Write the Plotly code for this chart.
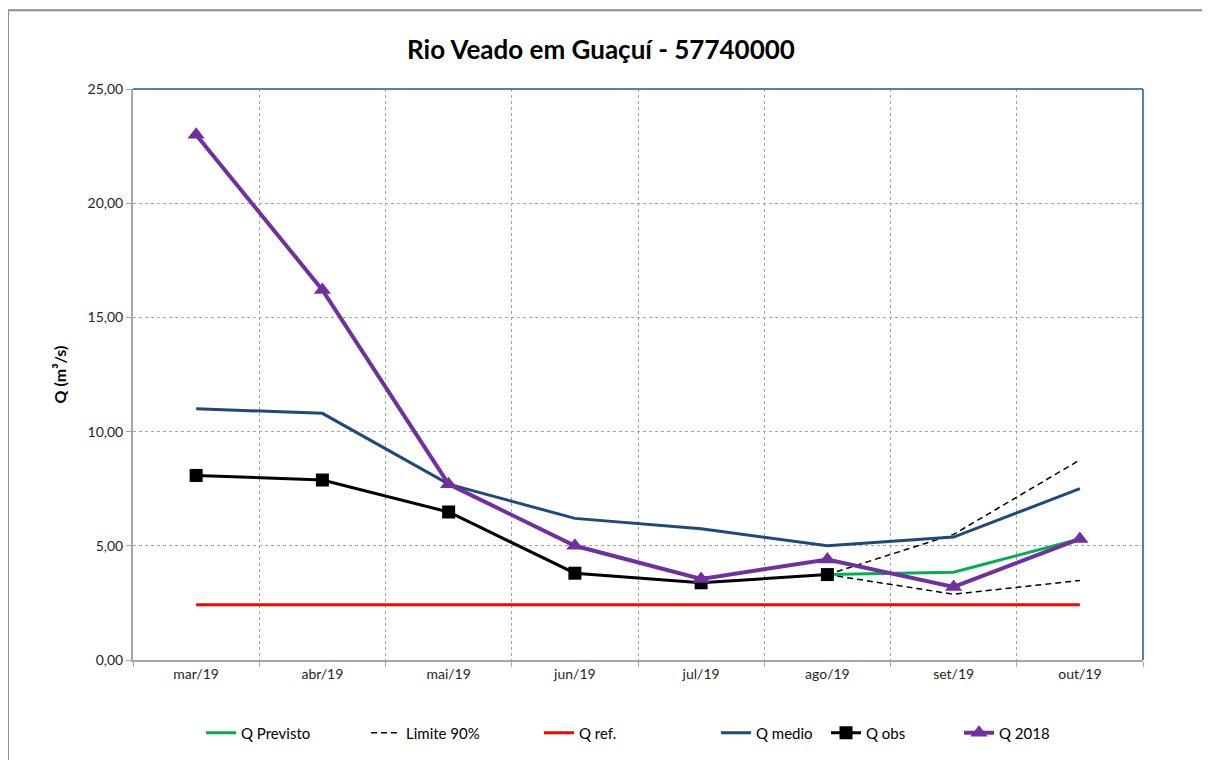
import plotly.graph_objects as go

months = ["mar/19", "abr/19", "mai/19", "jun/19", "jul/19", "ago/19", "set/19", "out/19"]
q_2018 = [23.0, 16.2, 7.7, 5.0, 3.55, 4.4, 3.2, 5.3]
q_medio = [11.0, 10.8, 7.7, 6.2, 5.75, 5.0, 5.38, 7.5]
q_obs = [8.08, 7.88, 6.48, 3.8, 3.38, 3.74, None, None]
q_ref = [2.42] * 8
prev_months = ["ago/19", "set/19", "out/19"]
q_previsto = [3.74, 3.84, 5.3]
lim_sup = [3.74, 5.5, 8.76]
lim_inf = [3.74, 2.88, 3.48]

fig = go.Figure()
fig.add_trace(go.Scatter(x=prev_months, y=q_previsto, name="Q Previsto", mode="lines",
                         legend="legend", line=dict(color="#00b050", width=3)))
fig.add_trace(go.Scatter(x=prev_months, y=lim_sup, name="Limite 90%", mode="lines",
                         legend="legend2", line=dict(color="black", width=1.5, dash="6px,4px")))
fig.add_trace(go.Scatter(x=prev_months, y=lim_inf, name="Limite 90%", mode="lines",
                         legend="legend2", showlegend=False,
                         line=dict(color="black", width=1.5, dash="6px,4px")))
fig.add_trace(go.Scatter(x=months, y=q_ref, name="Q ref.", mode="lines",
                         legend="legend3", line=dict(color="#ff0000", width=3)))
fig.add_trace(go.Scatter(x=months, y=q_medio, name="Q medio", mode="lines",
                         legend="legend4", line=dict(color="#1f497d", width=3)))
fig.add_trace(go.Scatter(x=months, y=q_obs, name="Q obs", mode="lines+markers",
                         legend="legend5", line=dict(color="black", width=3),
                         marker=dict(symbol="square", size=13, color="black")))
fig.add_trace(go.Scatter(x=months, y=q_2018, name="Q 2018", mode="lines+markers",
                         legend="legend6", line=dict(color="#7030a0", width=4),
                         marker=dict(symbol="triangle-up", size=15, color="#7030a0")))

font = "Lato, Open Sans, sans-serif"
L, T, PW, PH = 125, 81, 1010, 571
legend_px = [207, 372, 545, 722, 832, 965]  # page x of each legend line start


def leg(px):
    return dict(x=(px - 8 - L - 6) / PW, xanchor="left", y=-0.128, yanchor="middle",
                font=dict(size=15, color="black"), bgcolor="rgba(0,0,0,0)", itemwidth=30)


legends = {}
for i, px in enumerate(legend_px):
    key = "legend" if i == 0 else f"legend{i + 1}"
    legends[key] = leg(px)

fig.update_layout(
    width=1210, height=760,
    margin=dict(l=L, r=1210 - L - PW, t=T, b=760 - T - PH),
    paper_bgcolor="white", plot_bgcolor="white",
    separators=", ",
    font=dict(family=font, size=14, color="#262626"),
    title=dict(text="<b>Rio Veado em Guaçuí - 57740000</b>", x=593 / 1210, xanchor="center",
               y=1 - 42 / 760, yanchor="middle", font=dict(size=26, color="black")),
    showlegend=True,
    xaxis=dict(type="category", categoryorder="array", categoryarray=months,
               range=[-0.5, 7.5], tickson="boundaries", showgrid=True,
               gridcolor="#a6a6a6", griddash="dot", gridwidth=1,
               showline=True, linecolor="#a6a6a6", linewidth=2,
               ticks="outside", ticklen=5, tickcolor="#a6a6a6",
               tickfont=dict(size=14, color="#262626"), zeroline=False),
    yaxis=dict(range=[0, 25], dtick=5, tickformat=".2f", showgrid=True,
               gridcolor="#a6a6a6", griddash="dot", gridwidth=1,
               showline=True, linecolor="#a6a6a6", linewidth=2,
               ticks="outside", ticklen=5, tickcolor="#a6a6a6", zeroline=False,
               tickfont=dict(size=14, color="#262626"),
               title=dict(text="<b>Q (m³/s)</b>", font=dict(size=16, color="black"), standoff=17)),
    shapes=[
        dict(type="line", xref="paper", yref="paper", x0=0, x1=1, y0=1, y1=1,
             line=dict(color="#4f81bd", width=2)),
        dict(type="line", xref="paper", yref="paper", x0=1, x1=1, y0=0, y1=1,
             line=dict(color="#4f81bd", width=2)),
        dict(type="rect", xref="paper", yref="paper", x0=-0.1238, x1=1.08, y0=-0.2, y1=1.138,
             line=dict(color="#8c8c8c", width=2), layer="below"),
    ],
    **legends,
)

fig.write_html("out.html")
